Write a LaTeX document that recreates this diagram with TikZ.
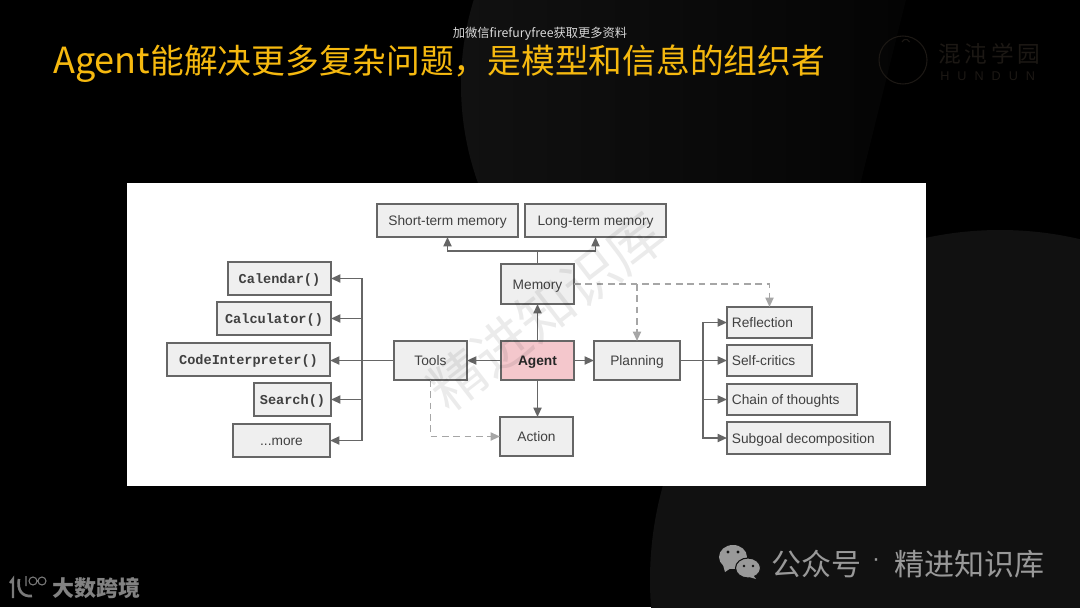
\documentclass[tikz,border=0pt]{standalone}
\usepackage{fontspec}
\setmainfont{Liberation Sans}
\setmonofont{Liberation Mono}
\newfontfamily\cjk{Noto Sans CJK SC}
\usetikzlibrary{arrows.meta,positioning}
\definecolor{linegray}{HTML}{666666}
\definecolor{dashgray}{HTML}{A6A6A6}
\definecolor{boxfill}{HTML}{EFEFEF}
\definecolor{agentfill}{HTML}{F4C7CC}
\definecolor{titlegold}{HTML}{F6B90F}
\definecolor{logodim}{HTML}{1C1814}
\definecolor{footgray}{HTML}{999999}
\definecolor{discgray}{HTML}{111111}
\tikzset{
  x=0.75pt,y=-0.75pt,
  boxbase/.style={draw=linegray,line width=1.3pt,outer sep=0pt,fill=boxfill,inner sep=0pt,text=black!75,text height=7.6pt,text depth=0pt,font=\fontsize{10.3pt}{12pt}\selectfont},
  arr/.style={draw=linegray,line width=1.35pt,-{Triangle[length=7pt,width=6pt]}},
  plainline/.style={draw=linegray,line width=1.35pt},
  dasharr/.style={draw=dashgray,line width=1.35pt,dash pattern=on 5pt off 3.5pt,-{Triangle[length=7pt,width=6pt]}},
  monotext/.style={font=\fontsize{10.2pt}{12pt}\selectfont\ttfamily\bfseries}
}
\newcommand{\bx}[6][]{\node[boxbase,#1,minimum width=#4*0.75pt-#2*0.75pt,minimum height=#5*0.75pt-#3*0.75pt,anchor=north west] (#6) at (#2,#3)}
\begin{document}
\begin{tikzpicture}
\useasboundingbox (0,0) rectangle (1080,607);
\fill[black] (0,0) rectangle (1080,607);
% background discs
\begin{scope}
\clip (0,0) -- (906,0) -- (860,185) -- (860,607) -- (0,607) -- cycle;
\shade[left color=discgray,middle color=discgray!85!black,right color=black] (751,85) circle[radius=290];
\end{scope}
\begin{scope}
\clip (0,0) rectangle (1080,607);
\fill[discgray] (1000,580) circle[radius=350];
\end{scope}
% header
\node[font=\cjk\fontsize{9.2pt}{11pt}\selectfont,text=white!85!black] (hdr) at (540,34) {加微信firefuryfree获取更多资料};
\node[font=\cjk\fontsize{25.3pt}{30pt}\selectfont,text=titlegold,anchor=west,inner sep=0pt] (title) at (53,64) {{\fontsize{27pt}{30pt}\selectfont Agent}能解决更多复杂问题，是模型和信息的组织者};
% logo
\draw[logodim,line width=0.8pt] (903,60) circle[radius=24];
\draw[logodim,line width=0.8pt] (902,42) arc[start angle=200,end angle=340,radius=4];
\node[font=\cjk\fontsize{17pt}{20pt}\selectfont,text=logodim,anchor=west,inner sep=0pt] (lg1) at (938,54) {混\,沌\,学\,园};
\node[font=\fontsize{9.5pt}{12pt}\selectfont,text=logodim,anchor=west,inner sep=0pt] (lg2) at (940,76) {H\hspace{6pt}U\hspace{6pt}N\hspace{6pt}D\hspace{6pt}U\hspace{6pt}N};
% panel
\fill[white] (127,183) rectangle (926,486);
% boxes
\bx{377}{204}{518}{237}{short} {Short-term memory};
\bx{525}{204}{666}{237}{long} {Long-term memory};
\bx{501}{264}{574}{304}{mem} {Memory};
\bx[fill=agentfill,font=\fontsize{10.3pt}{12pt}\selectfont\bfseries,text=black!85]{501}{341}{574}{380}{agent} {Agent};
\bx{394}{341}{467}{380}{tools} {Tools};
\bx{500}{417}{573}{456}{action} {Action};
\bx{594}{341}{680}{380}{plan} {Planning};
\bx{727}{307}{812}{338}{refl} {\makebox[63.75pt][l]{\hspace{3.7pt}Reflection}};
\bx{727}{345}{812}{376}{self} {\makebox[63.75pt][l]{\hspace{3.7pt}Self-critics}};
\bx{727}{384}{857}{415}{chain} {\makebox[97.5pt][l]{\hspace{3.7pt}Chain of thoughts}};
\bx{727}{422}{890}{454}{sub} {\makebox[122.25pt][l]{\hspace{3.7pt}Subgoal decomposition}};
\bx[monotext]{228}{262}{331}{295}{cal} {Calendar()};
\bx[monotext]{217}{302}{331}{335}{calc} {Calculator()};
\bx[monotext]{167}{343}{330}{376}{code} {CodeInterpreter()};
\bx[monotext]{254}{383}{331}{416}{search} {Search()};
\bx{233}{424}{330}{457}{more} {...more};
% connectors
\path (mem.north) ++(0,-13) coordinate (memj);
\path (tools.west) ++(-32,0) coordinate (lbus);
\path (plan.east) ++(23,0) coordinate (rbus);
\coordinate (dashj) at (plan.north |- mem.east);
\draw[plainline] (mem.north) -- (memj);
\draw[arr] (memj) -| (short.south);
\draw[arr] (memj) -| (long.south);
\draw[arr] (agent) -- (mem);
\draw[arr] (agent) -- (tools);
\draw[arr] (agent) -- (plan);
\draw[arr] (agent.south) -- (agent.south |- action.north);
\draw[arr] (tools.west) -- (tools.west -| code.east);
\draw[arr] (lbus) |- (cal.east);
\draw[arr] (lbus) |- (calc.east);
\draw[arr] (lbus) |- (search.east);
\draw[arr] (lbus) |- (more.east);
\draw[arr] (plan) -- (self);
\draw[arr] (rbus) |- (refl.west);
\draw[arr] (rbus) |- (chain.west);
\draw[arr] (rbus) |- (sub.west);
\draw[dasharr] (mem.east) -| (refl.north);
\draw[dasharr] (dashj) -- (plan.north);
\draw[dasharr] (tools.south) |- (action.west);
% watermark
\node[font=\cjk\fontsize{42pt}{46pt}\selectfont,text=black,opacity=0.08,rotate=37.7] (wm) at (546,311) {精进知识库};
% footer
\begin{scope}[footgray]
\fill (733,557) ellipse[x radius=14,y radius=12];
\fill (723,565) -- (725,572) -- (731,568) -- cycle;
\fill[draw=discgray,line width=0.8pt] (748,568) ellipse[x radius=12.5,y radius=10];
\fill (753,575) -- (756,579) -- (749,577) -- cycle;
\end{scope}
\fill[discgray] (728,552) circle[radius=1.7] (738,552) circle[radius=1.7] (744,566) circle[radius=1.4] (753,566) circle[radius=1.4];
\node[font=\cjk\fontsize{22.5pt}{26pt}\selectfont,text=footgray,anchor=west,inner sep=0pt] (wx) at (771,564) {公众号};
\node[font=\fontsize{18pt}{20pt}\selectfont,text=footgray,inner sep=0pt] (dot) at (876,563) {·};
\node[font=\cjk\fontsize{22.5pt}{26pt}\selectfont,text=footgray,anchor=west,inner sep=0pt] (jj) at (894,564) {精进知识库};
\node[font=\cjk\bfseries\fontsize{16.5pt}{18pt}\selectfont,text=footgray!85!black,anchor=west,inner sep=0pt] (dskj) at (52,588) {大数跨境};
\draw[footgray!80!black,line width=1.8pt] (10,583) -- (13,579) -- (13,598);
\draw[footgray!80!black,line width=2pt] (19,579) .. controls (17,590) and (22,597) .. (32,596);
\draw[footgray!80!black,line width=0.8pt] (26,576) -- (26,586) (33,581) circle[radius=4] (42,581) circle[radius=4];
\end{tikzpicture}
\end{document}
